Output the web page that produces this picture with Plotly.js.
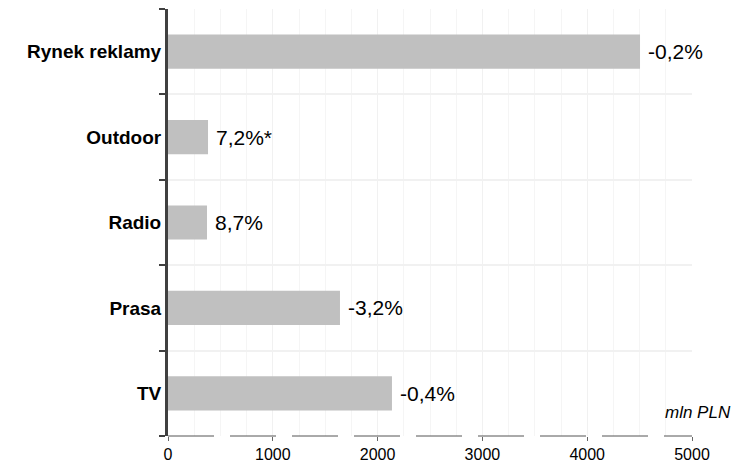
<!DOCTYPE html>
<html>
<head>
<meta charset="utf-8">
<script src="https://cdn.plot.ly/plotly-3.0.1.min.js"></script>
<style>html,body{margin:0;padding:0;background:#fff;}#chart{width:733px;height:469px;}</style>
</head>
<body>
<div id="chart"></div>
<script>
const categories = ["TV", "Prasa", "Radio", "Outdoor", "Rynek reklamy"];
const values = [2137, 1641, 372, 382, 4504];
const changeLabels = ["-0,4%", "-3,2%", "8,7%", "7,2%*", "-0,2%"];
const xTicks = [0, 1000, 2000, 3000, 4000, 5000];
const unitLabel = "mln PLN";

const trace = {
  type: "bar",
  orientation: "h",
  y: categories,
  x: values,
  width: 0.4,
  marker: {color: "#c0c0c0", line: {width: 0}},
  hoverinfo: "none"
};

const annotations = categories.map((c, i) => ({
  x: values[i], y: c, xref: "x", yref: "y",
  text: changeLabels[i], showarrow: false,
  xanchor: "left", yanchor: "middle", xshift: 6,
  font: {family: "Liberation Sans, Arial, sans-serif", size: 21, color: "#000"}
}));
annotations.push({
  x: 1, y: 0, xref: "paper", yref: "paper",
  text: "<i>" + unitLabel + "</i>", showarrow: false,
  xanchor: "right", yanchor: "bottom", xshift: 41, yshift: 12,
  font: {family: "Liberation Sans, Arial, sans-serif", size: 17, color: "#000"}
});

const layout = {
  width: 733, height: 469,
  margin: {l: 168, r: 41, t: 9, b: 33},
  paper_bgcolor: "#ffffff", plot_bgcolor: "#ffffff",
  showlegend: false,
  xaxis: {
    range: [0, 5000],
    tickvals: xTicks,
    ticktext: xTicks.map(String),
    ticks: "outside", ticklen: 4, tickcolor: "#666", tickwidth: 1,
    showline: false, zeroline: false,
    showgrid: true, gridcolor: "#f1f1f1", gridwidth: 1,
    minor: {dtick: 250, showgrid: true, gridcolor: "#f5f5f5", gridwidth: 1},
    tickfont: {family: "Liberation Sans, Arial, sans-serif", size: 16, color: "#000"},
    fixedrange: true
  },
  yaxis: {
    type: "category",
    categoryorder: "array", categoryarray: categories,
    range: [-0.5, 4.5],
    tickson: "boundaries",
    ticks: "outside", ticklen: 6, tickcolor: "#404040", tickwidth: 2,
    showline: true, linecolor: "#404040", linewidth: 3,
    showgrid: true, gridcolor: "#f1f1f1", gridwidth: 2,
    zeroline: false,
    ticklabelstandoff: 0,
    tickfont: {family: "Liberation Sans, Arial, sans-serif", size: 19, color: "#000", weight: "bold"},
    fixedrange: true
  },
  shapes: [{
    type: "line", xref: "paper", yref: "paper",
    x0: 0, x1: 1, y0: 0, y1: 0,
    line: {color: "#555", width: 1, dash: "46px,16px"}
  }],
  annotations: annotations,
  bargap: 0.6
};

Plotly.newPlot("chart", [trace], layout, {displayModeBar: false, staticPlot: true});
</script>
</body>
</html>
